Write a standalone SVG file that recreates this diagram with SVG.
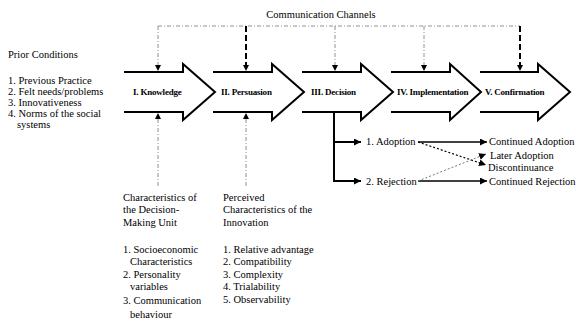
<svg xmlns="http://www.w3.org/2000/svg" width="576" height="324" viewBox="0 0 576 324" font-family="'Liberation Serif', 'Times New Roman', Times, serif">
<defs>
<style>
text{font-family:'Liberation Serif','Times New Roman',Times,serif;font-size:10.5px;fill:#000}
.lbl{font-weight:bold;font-size:9px;letter-spacing:-0.2px}
.stage{fill:none;stroke:#000;stroke-width:2}
.thin{fill:none;stroke:#777;stroke-width:0.8;stroke-dasharray:4,2,1,2}
.thick{fill:none;stroke:#000;stroke-width:2;stroke-dasharray:6,3}
.solid{fill:none;stroke:#000;stroke-width:2}
.tri{fill:#000}
</style>
<marker id="ah2" viewBox="0 0 10 10" refX="10" refY="5" markerWidth="7" markerHeight="7" orient="auto" markerUnits="userSpaceOnUse"><path d="M0,0 L10,5 L0,10 Z" fill="#000"/></marker>
</defs>
<rect width="576" height="324" fill="#fff"/>
<g id="title"><text x="321" y="18" text-anchor="middle">Communication Channels</text></g>
<g id="prior">
<text x="8" y="58">Prior Conditions</text>
<text x="8" y="84">1. Previous Practice</text>
<text x="8" y="95">2. Felt needs/problems</text>
<text x="8" y="106">3. Innovativeness</text>
<text x="8" y="117">4. Norms of the social</text>
<text x="17" y="128">systems</text>
</g>
<g id="stage1"><path class="stage" d="M124,72 H183 V64 L215,92 L183,120 V112 H124"/><text class="lbl" x="133" y="95">I. Knowledge</text></g>
<g id="stage2"><path class="stage" d="M213,72 H272 V64 L304,92 L272,120 V112 H213"/><text class="lbl" x="221" y="95">II. Persuasion</text></g>
<g id="stage3"><path class="stage" d="M302,72 H361 V64 L393,92 L361,120 V112 H302"/><text class="lbl" x="311" y="95">III. Decision</text></g>
<g id="stage4"><path class="stage" d="M391,72 H450 V64 L481,92 L450,120 V112 H391"/><text class="lbl" x="397" y="95">IV. Implementation</text></g>
<g id="stage5"><path class="stage" d="M480,72 H538 V64 L570,92 L538,120 V112 H480"/><text class="lbl" x="485" y="95">V. Confirmation</text></g>
<g id="dmu">
<text x="123" y="201">Characteristics of</text>
<text x="123" y="213">the Decision-</text>
<text x="123" y="226">Making Unit</text>
<text x="123" y="253">1. Socioeconomic</text>
<text x="130" y="265">Characteristics</text>
<text x="123" y="278">2. Personality</text>
<text x="130" y="290">variables</text>
<text x="123" y="304">3. Communication</text>
<text x="130" y="318">behaviour</text>
</g>
<g id="innov">
<text x="223" y="201">Perceived</text>
<text x="223" y="213">Characteristics of the</text>
<text x="223" y="226">Innovation</text>
<text x="223" y="253">1. Relative advantage</text>
<text x="223" y="265">2. Compatibility</text>
<text x="223" y="278">3. Complexity</text>
<text x="223" y="290">4. Trialability</text>
<text x="223" y="303">5. Observability</text>
</g>
<g id="adoption"><text x="366" y="145">1. Adoption</text></g>
<g id="rejection"><text x="366" y="185">2. Rejection</text></g>
<g id="outcomes">
<text x="489" y="145">Continued Adoption</text>
<text x="490" y="159">Later Adoption</text>
<text x="488" y="171">Discontinuance</text>
<text x="489" y="185">Continued Rejection</text>
</g>
<g id="connectors">
<path class="thin" d="M158,26 H520"/>
<path class="thin" d="M158,26 V66"/>
<path class="thick" d="M246,26 V66"/>
<path class="thin" d="M335,26 V66"/>
<path class="thin" d="M424,26 V66"/>
<path class="thick" d="M520,26 V66"/>
<path class="tri" d="M155,65 H161 L158,71 Z"/>
<path class="tri" d="M243,65 H249 L246,71 Z"/>
<path class="tri" d="M332,65 H338 L335,71 Z"/>
<path class="tri" d="M421,65 H427 L424,71 Z"/>
<path class="tri" d="M517,65 H523 L520,71 Z"/>
<path class="thin" d="M158,119 V186"/>
<path class="thin" d="M246,119 V186"/>
<path class="tri" d="M155,119 H161 L158,113 Z"/>
<path class="tri" d="M243,119 H249 L246,113 Z"/>
<path class="solid" d="M334,112 V181 H361" marker-end="url(#ah2)"/>
<path class="solid" d="M334,142 H361" marker-end="url(#ah2)"/>
<path fill="none" stroke="#000" stroke-width="1.5" d="M418,142 H487" marker-end="url(#ah2)"/>
<path fill="none" stroke="#000" stroke-width="1.5" d="M418,181 H487" marker-end="url(#ah2)"/>
<path fill="none" stroke="#000" stroke-width="1.2" stroke-dasharray="2,2" d="M418,142 L486,165" marker-end="url(#ah2)"/>
<path fill="none" stroke="#777" stroke-width="1" stroke-dasharray="2,2" d="M418,181 L486,154" marker-end="url(#ah2)"/>
</g>
</svg>
